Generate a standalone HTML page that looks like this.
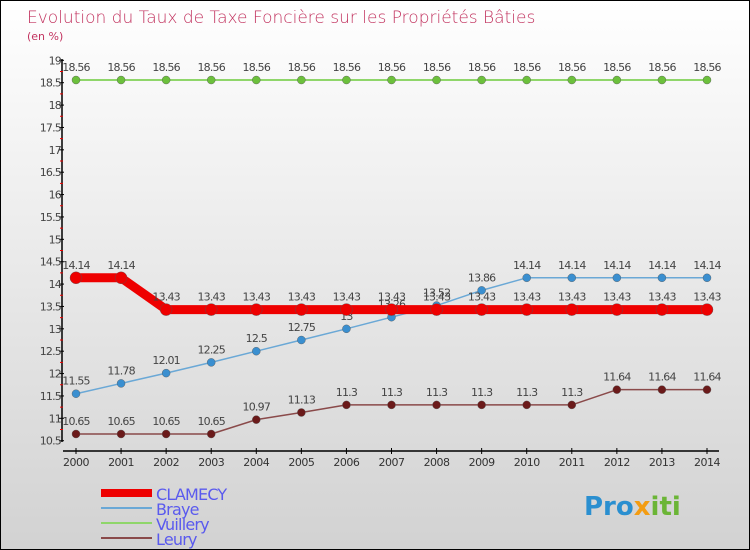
<!DOCTYPE html>
<html><head><meta charset="utf-8"><style>
html,body{margin:0;padding:0}
body{width:750px;height:550px;overflow:hidden;font-family:"DejaVu Sans","Liberation Sans",sans-serif}
#wrap{position:relative;width:748px;height:548px;border:1px solid #000;background:linear-gradient(#ffffff,#d2d2d2)}
</style></head><body>
<div id="wrap">
<svg id="chart" width="748" height="548" style="position:absolute;left:0;top:0">
<text x="26" y="22" font-size="17" fill="#c2335f" font-family="DejaVu Sans, sans-serif" font-weight="200">Evolution du Taux de Taxe Foncière sur les Propriétés Bâties</text>
<text x="26" y="39" font-size="11" fill="#c2335f">(en %)</text>
<g id="axes"></g><g id="series"></g><g id="legend"></g>
<text x="583" y="514" font-size="26" font-weight="bold" fill="#2a8fd0">Pro<tspan fill="#f39c12">x</tspan><tspan fill="#6bb536">iti</tspan></text>
</svg>
</div>
<script>
const years=[2000,2001,2002,2003,2004,2005,2006,2007,2008,2009,2010,2011,2012,2013,2014];
const clamecy=[14.14,14.14,13.43,13.43,13.43,13.43,13.43,13.43,13.43,13.43,13.43,13.43,13.43,13.43,13.43];
const braye=[11.55,11.78,12.01,12.25,12.5,12.75,13,13.26,13.52,13.86,14.14,14.14,14.14,14.14,14.14];
const vuillery=[18.56,18.56,18.56,18.56,18.56,18.56,18.56,18.56,18.56,18.56,18.56,18.56,18.56,18.56,18.56];
const leury=[10.65,10.65,10.65,10.65,10.97,11.13,11.3,11.3,11.3,11.3,11.3,11.3,11.64,11.64,11.64];
const yTicks=[10.5,11,11.5,12,12.5,13,13.5,14,14.5,15,15.5,16,16.5,17,17.5,18,18.5,19];
const braveLabels=["11.55","11.78","12.01","12.25","12.5","12.75","13","13.26","13.52","13.86","14.14","14.14","14.14","14.14","14.14"];
const NS="http://www.w3.org/2000/svg";
const xS=i=>75+i*(706-75)/14;
const yS=v=>439.7-(v-10.5)*44.75;
function mk(p,tag,attrs){const e=document.createElementNS(NS,tag);for(const k in attrs)e.setAttribute(k,attrs[k]);p.appendChild(e);return e;}
const axes=document.getElementById('axes'),ser=document.getElementById('series'),leg=document.getElementById('legend');
let a=mk(axes,'line',{x1:61,y1:58,x2:61,y2:441,stroke:'#000','stroke-width':1.5});


a=mk(axes,'line',{x1:62,y1:450,x2:718,y2:450,stroke:'#000','stroke-width':1.5});


yTicks.forEach(v=>{const y=yS(v);
 mk(axes,'line',{x1:58,y1:y,x2:63,y2:y,stroke:'#000'});
 if(v<19){mk(axes,'line',{x1:59,y1:yS(v+0.25),x2:62,y2:yS(v+0.25),stroke:'#e00'});}
 const t=mk(axes,'text',{x:60,y:y+4,'text-anchor':'end','font-size':11,fill:'#444','letter-spacing':'-0.8'});t.textContent=String(v);
 
 
});
years.forEach((yr,i)=>{const x=xS(i);
 mk(axes,'line',{x1:x,y1:447,x2:x,y2:453,stroke:'#000'});
 const t=mk(axes,'text',{x:x,y:465,'text-anchor':'middle','font-size':11,fill:'#333','letter-spacing':'-0.5'});t.textContent=yr;
 
 
});
function series(vals,labels,color,dot,w,r,name){
 const g=mk(ser,'g',{});
 
 
 const pl=mk(g,'polyline',{points:vals.map((v,i)=>xS(i)+','+yS(v)).join(' '),fill:'none',stroke:color,'stroke-width':w,'stroke-linejoin':'round'});
 
 
 vals.forEach((v,i)=>{
  const c=mk(g,'circle',{cx:xS(i),cy:yS(v),r:r,fill:dot,stroke:'#555','stroke-width':0.4});
  
  
  const t=mk(g,'text',{x:xS(i),y:yS(v)-9,'text-anchor':'middle','font-size':11,fill:'#444','letter-spacing':'-0.8'});
  t.textContent=labels?labels[i]:String(v);
  
  
 });
}
series(vuillery,null,'#8fd66a','#6cc03c',2,4,'vuillery');
series(leury,null,'#8a4a4a','#6b1a1a',1.5,4,'leury');
series(braye,braveLabels,'#6aa8d6','#3a8fd0',1.5,4,'braye');
series(clamecy,null,'#ee0000','#ee0000',9,6,'clamecy');
const legItems=[['CLAMECY','#ee0000',8],['Braye','#6aa8d6',2],['Vuillery','#8fd66a',2],['Leury','#8a4a4a',2]];
legItems.forEach((it,i)=>{const y=492+i*15;
 const l=mk(leg,'line',{x1:100,y1:y,x2:151,y2:y,stroke:it[1],'stroke-width':it[2]});
 
 
 const t=mk(leg,'text',{x:155,y:y+7,'font-size':16,fill:'#5a5aee','letter-spacing':'-0.8'});t.textContent=it[0];
 
 
});
</script>
</body></html>
